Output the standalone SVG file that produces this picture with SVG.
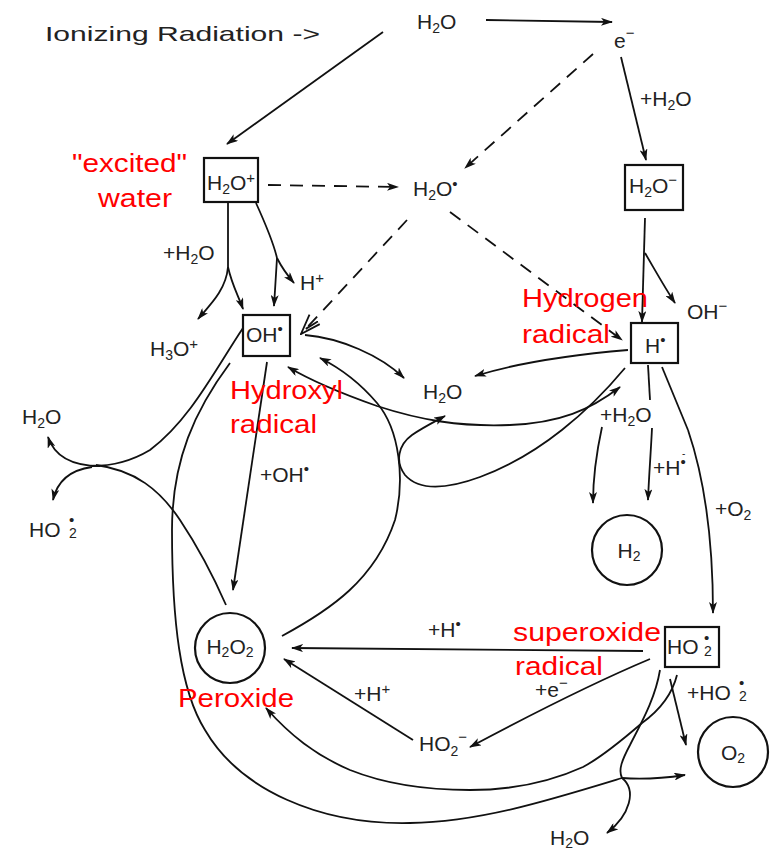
<svg xmlns="http://www.w3.org/2000/svg" width="775" height="851" viewBox="0 0 775 851">
<style>
.ln{fill:none;stroke:#111;stroke-width:1.8}
.dash{stroke-dasharray:13 9}
.box{fill:#fff;stroke:#111;stroke-width:2.2}
.circ{fill:#fff;stroke:#111;stroke-width:2.2}
.t{font-family:"Liberation Sans",Arial,sans-serif;font-size:21px;fill:#222}
.r{font-family:"Liberation Sans",Arial,sans-serif;font-size:26px;fill:#ff0000}
.s{font-size:14px}
.p{font-size:15px}
</style>
<defs>
<marker id="a" viewBox="0 0 12 8" refX="11" refY="4" markerWidth="12" markerHeight="8" markerUnits="userSpaceOnUse" orient="auto-start-reverse"><path d="M0,0 L12,4 L0,8 L3,4 z" fill="#111"/></marker>
<marker id="ch" viewBox="0 0 22 16" refX="21" refY="8" markerWidth="22" markerHeight="16" markerUnits="userSpaceOnUse" orient="auto"><path d="M1,1 L21,8 L1,15 M-4,3 L14,8" fill="none" stroke="#111" stroke-width="1.8"/></marker>
</defs>
<rect width="775" height="851" fill="#fff"/>

<g id="connectors">
<path class="ln" d="M383,32 L227,144" marker-end="url(#a)"/>
<path class="ln" d="M486,20 L612,22" marker-end="url(#a)"/>
<path class="ln" d="M621,57 L646,160" marker-end="url(#a)"/>
<path class="ln dash" d="M593,54 L465,168" marker-end="url(#a)"/>
<path class="ln dash" d="M268,185 L398,187" marker-end="url(#a)"/>
<path class="ln dash" d="M407,220 L301,334" marker-end="url(#ch)"/>
<path class="ln dash" d="M450,212 L622,340" marker-end="url(#a)"/>
<path class="ln" d="M228,203 L228,267"/>
<path class="ln" d="M228,267 C226,290 210,305 198,319" marker-end="url(#a)"/>
<path class="ln" d="M228,267 C232,285 238,295 243,309" marker-end="url(#a)"/>
<path class="ln" d="M256,203 C266,225 274,245 277,258"/>
<path class="ln" d="M277,258 C282,268 288,276 294,283" marker-end="url(#a)"/>
<path class="ln" d="M277,258 C276,275 275,290 274,306" marker-end="url(#a)"/>
<path class="ln" d="M645,218 L642,322" marker-end="url(#a)"/>
<path class="ln" d="M645,253 C655,270 665,288 675,303" marker-end="url(#a)"/>
<path class="ln" d="M628,350 C570,355 520,362 475,376" marker-end="url(#a)"/>
<path class="ln" d="M305,335 C340,338 380,355 404,378" marker-end="url(#a)"/>
<path class="ln" d="M620,387 C590,410 560,423 510,425 C460,427 420,420 377,406 C340,393 310,380 288,367" marker-start="url(#a)" marker-end="url(#a)"/>
<path class="ln" d="M625,368 C590,410 540,455 480,477 C450,488 420,492 405,475 C395,462 398,445 412,435 C422,428 432,423 445,416" marker-end="url(#a)"/>
<path class="ln" d="M282,636 C330,610 375,580 395,520 C405,480 400,430 377,403 C360,383 340,368 320,358" marker-end="url(#a)"/>
<path class="ln" d="M243,328 C215,370 190,420 150,450 C130,462 112,466 92,466"/>
<path class="ln" d="M100,466 C75,466 55,458 48,437" marker-end="url(#a)"/>
<path class="ln" d="M92,467 C70,470 57,482 53,500" marker-end="url(#a)"/>
<path class="ln" d="M96,465 C135,470 160,490 180,520 C200,550 215,580 226,605"/>
<path class="ln" d="M267,362 L233,590" marker-end="url(#a)"/>
<path class="ln" d="M230,363 C195,410 172,460 172,530 C172,620 180,690 205,730 C240,790 320,825 410,823 C480,822 550,800 622,778"/>
<path class="ln" d="M622,778 C645,780 665,778 685,775" marker-end="url(#a)"/>
<path class="ln" d="M622,778 C637,790 630,815 607,833" marker-end="url(#a)"/>
<path class="ln" d="M660,670 C655,700 640,725 630,745 C622,760 618,770 622,778"/>
<path class="ln" d="M677,675 C672,695 660,710 642,723 C620,742 600,758 583,767 C550,782 510,790 470,790 C420,790 380,782 350,770 C315,755 290,735 266,708" marker-end="url(#a)"/>
<path class="ln" d="M670,679 L686,745" marker-end="url(#a)"/>
<path class="ln" d="M643,651 L292,648" marker-end="url(#a)"/>
<path class="ln" d="M650,659 C600,680 530,715 470,747" marker-end="url(#a)"/>
<path class="ln" d="M413,740 L284,659" marker-end="url(#a)"/>
<path class="ln" d="M648,365 L650,400"/>
<path class="ln" d="M602,427 C597,450 593,475 593,503" marker-end="url(#a)"/>
<path class="ln" d="M652,428 C651,450 649,475 648,500" marker-end="url(#a)"/>
<path class="ln" d="M662,367 L688,430" stroke-width="4"/>
<path class="ln" d="M688,430 C705,480 713,540 713,613" marker-end="url(#a)"/>
</g>

<g id="title"><text class="t" x="45" y="41" font-size="28" textLength="275" lengthAdjust="spacingAndGlyphs">Ionizing Radiation -&gt;</text></g>

<g id="n-h2o-top"><text class="t" x="417" y="29">H<tspan class="s" dy="4">2</tspan><tspan dy="-4">O</tspan></text></g>
<g id="n-e"><text class="t" x="614" y="48">e<tspan class="p" dy="-10">−</tspan></text></g>
<g id="n-h2o-plus"><rect class="box" x="204" y="158" width="54" height="44"/><text class="t" x="207" y="190" font-size="20">H<tspan class="s" dy="4">2</tspan><tspan dy="-4">O</tspan><tspan class="p" dy="-7">+</tspan></text></g>
<g id="n-h2o-star"><text class="t" x="413" y="196">H<tspan class="s" dy="4">2</tspan><tspan dy="-4">O</tspan><tspan class="p" dy="-7">•</tspan></text></g>
<g id="n-h2o-minus"><rect class="box" x="625" y="165" width="58" height="45"/><text class="t" x="629" y="193" font-size="20">H<tspan class="s" dy="4">2</tspan><tspan dy="-4">O</tspan><tspan class="p" dy="-8">−</tspan></text></g>
<g id="n-oh"><rect class="box" x="243" y="315" width="47" height="41"/><text class="t" x="246" y="342" font-size="20">OH<tspan class="p" dy="-8">•</tspan></text></g>
<g id="n-h"><rect class="box" x="631" y="323" width="47" height="40"/><text class="t" x="645" y="353" font-size="20">H<tspan class="p" dy="-8">•</tspan></text></g>
<g id="n-ho2"><rect class="box" x="665" y="627" width="54" height="40"/><text class="t" x="667" y="654" font-size="20">HO<tspan class="s" x="704" y="656">2</tspan><tspan class="p" x="704" y="643">•</tspan></text></g>
<g id="n-h2"><circle class="circ" cx="627" cy="550" r="35"/><text class="t" x="629" y="558" font-size="19" text-anchor="middle">H<tspan class="s" dy="3">2</tspan></text></g>
<g id="n-h2o2"><circle class="circ" cx="230" cy="648" r="35"/><text class="t" x="230" y="654" font-size="18" text-anchor="middle">H<tspan class="s" dy="3">2</tspan><tspan dy="-3">O</tspan><tspan class="s" dy="3">2</tspan></text></g>
<g id="n-o2"><circle class="circ" cx="733" cy="752" r="35" stroke-width="3.2"/><text class="t" x="733" y="760" font-size="19" text-anchor="middle">O<tspan class="s" dy="3">2</tspan></text></g>
<g id="n-h3o"><text class="t" x="150" y="356">H<tspan class="s" dy="4">3</tspan><tspan dy="-4">O</tspan><tspan class="p" dy="-7">+</tspan></text></g>
<g id="n-hplus"><text class="t" x="300" y="290">H<tspan class="p" dy="-7">+</tspan></text></g>
<g id="n-ohminus"><text class="t" x="687" y="319">OH<tspan class="p" dy="-8">−</tspan></text></g>
<g id="n-h2o-mid"><text class="t" x="423" y="399">H<tspan class="s" dy="4">2</tspan><tspan dy="-4">O</tspan></text></g>
<g id="n-h2o-left"><text class="t" x="22" y="424">H<tspan class="s" dy="4">2</tspan><tspan dy="-4">O</tspan></text></g>
<g id="n-ho2-left"><text class="t" x="29" y="537">HO<tspan class="s" x="69" y="538">2</tspan><tspan class="p" x="69" y="525">•</tspan></text></g>
<g id="n-ho2minus"><text class="t" x="419" y="751">HO<tspan class="s" dy="5">2</tspan><tspan class="p" dy="-14">−</tspan></text></g>
<g id="n-h2o-bot"><text class="t" x="550" y="845">H<tspan class="s" dy="3">2</tspan><tspan dy="-3">O</tspan></text></g>

<g id="edge-labels">
<text class="t" x="640" y="106">+H<tspan class="s" dy="4">2</tspan><tspan dy="-4">O</tspan></text>
<text class="t" x="163" y="260">+H<tspan class="s" dy="4">2</tspan><tspan dy="-4">O</tspan></text>
<text class="t" x="260" y="482">+OH<tspan class="p" dy="-8">•</tspan></text>
<text class="t" x="600" y="422">+H<tspan class="s" dy="4">2</tspan><tspan dy="-4">O</tspan></text>
<text class="t" x="653" y="475">+H<tspan class="p" dy="-8">•</tspan><tspan font-size="10" x="682" y="457">-</tspan></text>
<text class="t" x="715" y="516">+O<tspan class="s" dy="4">2</tspan></text>
<text class="t" x="428" y="637">+H<tspan class="p" dy="-8">•</tspan></text>
<text class="t" x="354" y="701">+H<tspan class="p" dy="-7">+</tspan></text>
<text class="t" x="535" y="697" fill="#555">+e<tspan class="p" dy="-9">−</tspan></text>
<text class="t" x="687" y="700">+HO<tspan class="s" x="739" y="701">2</tspan><tspan class="p" x="739" y="688">•</tspan></text>
</g>

<g id="labels">
<text class="r" x="72" y="172" textLength="115" lengthAdjust="spacingAndGlyphs">"excited"</text>
<text class="r" x="98" y="207" textLength="74" lengthAdjust="spacingAndGlyphs">water</text>
<text class="r" x="522" y="307" textLength="126" lengthAdjust="spacingAndGlyphs">Hydrogen</text>
<text class="r" x="522" y="343" textLength="88" lengthAdjust="spacingAndGlyphs">radical</text>
<text class="r" x="230" y="399" textLength="113" lengthAdjust="spacingAndGlyphs">Hydroxyl</text>
<text class="r" x="230" y="433" textLength="87" lengthAdjust="spacingAndGlyphs">radical</text>
<text class="r" x="178" y="707" textLength="116" lengthAdjust="spacingAndGlyphs">Peroxide</text>
<text class="r" x="513" y="641" textLength="148" lengthAdjust="spacingAndGlyphs">superoxide</text>
<text class="r" x="515" y="675" textLength="88" lengthAdjust="spacingAndGlyphs">radical</text>
</g>
</svg>
